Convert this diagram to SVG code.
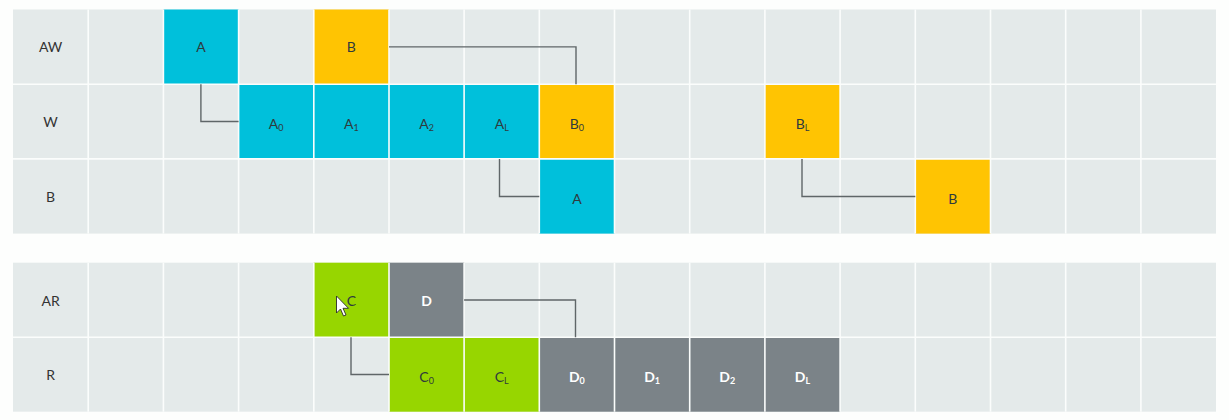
<svg xmlns="http://www.w3.org/2000/svg" width="1229" height="420" viewBox="0 0 1229 420">
<style>
.bg{fill:#e4eaea}
.cy{fill:#00c0db}
.ye{fill:#ffc402}
.gr{fill:#97d600}
.dg{fill:#7b8388}
.grid line{stroke:#fbfdfc;stroke-width:1.6}
.conn path{fill:none;stroke:#5f6668;stroke-width:1.4}
text{font-family:Lato,"Liberation Sans",sans-serif;font-size:14px;text-anchor:middle;dominant-baseline:central;fill:#2f3a3d}
text.w{fill:#ffffff;font-weight:bold}
text.lbl{fill:#333}
tspan.s{font-size:9px}
</style>
<rect width="1229" height="420" fill="#fdfefd"/>
<g id="background">
<rect class="bg" x="13" y="9.5" width="1203" height="224.1"/>
<rect class="bg" x="13" y="262.7" width="1203" height="149"/>
</g>
<g id="row-labels">
<text class="lbl" x="50.6" y="46.9">AW</text>
<text class="lbl" x="50.6" y="121.5">W</text>
<text class="lbl" x="50.6" y="196.2">B</text>
<text class="lbl" x="50.6" y="300">AR</text>
<text class="lbl" x="50.6" y="374.5">R</text>
</g>
<g id="node-AW-A"><rect class="cy" x="163.4" y="9.5" width="75.2" height="74.7"/></g>
<g id="node-AW-B"><rect class="ye" x="313.8" y="9.5" width="75.2" height="74.7"/></g>
<g id="node-W-A0"><rect class="cy" x="238.6" y="84.2" width="75.2" height="74.7"/></g>
<g id="node-W-A1"><rect class="cy" x="313.8" y="84.2" width="75.2" height="74.7"/></g>
<g id="node-W-A2"><rect class="cy" x="389" y="84.2" width="75.2" height="74.7"/></g>
<g id="node-W-AL"><rect class="cy" x="464.1" y="84.2" width="75.2" height="74.7"/></g>
<g id="node-W-B0"><rect class="ye" x="539.3" y="84.2" width="75.2" height="74.7"/></g>
<g id="node-W-BL"><rect class="ye" x="764.9" y="84.2" width="75.2" height="74.7"/></g>
<g id="node-B-A"><rect class="cy" x="539.3" y="158.9" width="75.2" height="74.7"/></g>
<g id="node-B-B"><rect class="ye" x="915.3" y="158.9" width="75.2" height="74.7"/></g>
<g id="node-AR-C"><rect class="gr" x="313.8" y="262.7" width="75.2" height="74.5"/></g>
<g id="node-AR-D"><rect class="dg" x="389" y="262.7" width="75.2" height="74.5"/></g>
<g id="node-R-C0"><rect class="gr" x="389" y="337.2" width="75.2" height="74.5"/></g>
<g id="node-R-CL"><rect class="gr" x="464.1" y="337.2" width="75.2" height="74.5"/></g>
<g id="node-R-D0"><rect class="dg" x="539.3" y="337.2" width="75.2" height="74.5"/></g>
<g id="node-R-D1"><rect class="dg" x="614.5" y="337.2" width="75.2" height="74.5"/></g>
<g id="node-R-D2"><rect class="dg" x="689.7" y="337.2" width="75.2" height="74.5"/></g>
<g id="node-R-DL"><rect class="dg" x="764.9" y="337.2" width="75.2" height="74.5"/></g>
<g class="grid" id="grid">
<line x1="88.2" y1="9.5" x2="88.2" y2="233.6"/><line x1="163.4" y1="9.5" x2="163.4" y2="233.6"/><line x1="238.6" y1="9.5" x2="238.6" y2="233.6"/><line x1="313.8" y1="9.5" x2="313.8" y2="233.6"/><line x1="389" y1="9.5" x2="389" y2="233.6"/><line x1="464.1" y1="9.5" x2="464.1" y2="233.6"/><line x1="539.3" y1="9.5" x2="539.3" y2="233.6"/><line x1="614.5" y1="9.5" x2="614.5" y2="233.6"/><line x1="689.7" y1="9.5" x2="689.7" y2="233.6"/><line x1="764.9" y1="9.5" x2="764.9" y2="233.6"/><line x1="840.1" y1="9.5" x2="840.1" y2="233.6"/><line x1="915.3" y1="9.5" x2="915.3" y2="233.6"/><line x1="990.5" y1="9.5" x2="990.5" y2="233.6"/><line x1="1065.7" y1="9.5" x2="1065.7" y2="233.6"/><line x1="1140.9" y1="9.5" x2="1140.9" y2="233.6"/>
<line x1="13" y1="84.2" x2="1216" y2="84.2"/><line x1="13" y1="158.9" x2="1216" y2="158.9"/>
<line x1="88.2" y1="262.7" x2="88.2" y2="411.7"/><line x1="163.4" y1="262.7" x2="163.4" y2="411.7"/><line x1="238.6" y1="262.7" x2="238.6" y2="411.7"/><line x1="313.8" y1="262.7" x2="313.8" y2="411.7"/><line x1="389" y1="262.7" x2="389" y2="411.7"/><line x1="464.1" y1="262.7" x2="464.1" y2="411.7"/><line x1="539.3" y1="262.7" x2="539.3" y2="411.7"/><line x1="614.5" y1="262.7" x2="614.5" y2="411.7"/><line x1="689.7" y1="262.7" x2="689.7" y2="411.7"/><line x1="764.9" y1="262.7" x2="764.9" y2="411.7"/><line x1="840.1" y1="262.7" x2="840.1" y2="411.7"/><line x1="915.3" y1="262.7" x2="915.3" y2="411.7"/><line x1="990.5" y1="262.7" x2="990.5" y2="411.7"/><line x1="1065.7" y1="262.7" x2="1065.7" y2="411.7"/><line x1="1140.9" y1="262.7" x2="1140.9" y2="411.7"/>
<line x1="13" y1="337.2" x2="1216" y2="337.2"/>
</g>
<g class="conn" id="connectors">
<path d="M200.9,84.2 V121.5 H238.6"/>
<path d="M389,46.9 H576 V84.2"/>
<path d="M499.5,158.9 V196.5 H539.3"/>
<path d="M802,158.9 V196.5 H915.3"/>
<path d="M351,337.2 V374.5 H389"/>
<path d="M464.1,300 H575.5 V337.2"/>
</g>
<g id="labels">
<text x="201" y="46.9">A</text>
<text x="351.4" y="46.9">B</text>
<text x="276.2" y="123">A<tspan class="s" dy="4">0</tspan></text>
<text x="351.4" y="123">A<tspan class="s" dy="4">1</tspan></text>
<text x="426.6" y="123">A<tspan class="s" dy="4">2</tspan></text>
<text x="501.7" y="123">A<tspan class="s" dy="4">L</tspan></text>
<text x="576.9" y="123">B<tspan class="s" dy="4">0</tspan></text>
<text x="802.5" y="123">B<tspan class="s" dy="4">L</tspan></text>
<text x="576.9" y="198">A</text>
<text x="952.9" y="198">B</text>
<text x="351.4" y="300">C</text>
<text class="w" x="426.6" y="300">D</text>
<text x="426.6" y="376">C<tspan class="s" dy="4">0</tspan></text>
<text x="501.7" y="376">C<tspan class="s" dy="4">L</tspan></text>
<text class="w" x="576.9" y="376">D<tspan class="s" dy="4">0</tspan></text>
<text class="w" x="652.1" y="376">D<tspan class="s" dy="4">1</tspan></text>
<text class="w" x="727.3" y="376">D<tspan class="s" dy="4">2</tspan></text>
<text class="w" x="802.5" y="376">D<tspan class="s" dy="4">L</tspan></text>
</g>
<g id="cursor">
<path d="M336.5,296 V313 L340.5,309 L343.5,316 L346,315 L343,308.3 L348.5,308.3 Z" fill="#ffffff" stroke="#2a2a2a" stroke-width="0.9"/>
</g>
</svg>
